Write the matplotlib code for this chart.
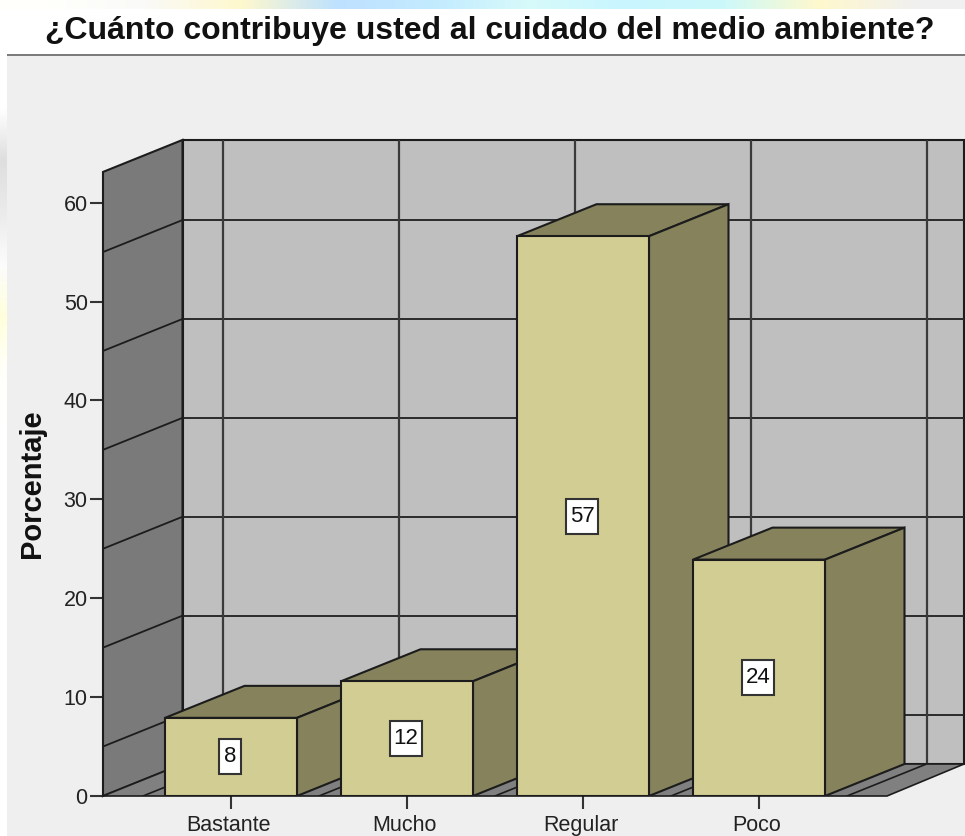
import matplotlib
matplotlib.use('Agg')
from matplotlib import pyplot as plt
from matplotlib.patches import Polygon, Rectangle
from matplotlib.transforms import ScaledTranslation
import numpy as np

categories = ['Bastante', 'Mucho', 'Regular', 'Poco']
heights = [7.9, 11.6, 56.6, 23.9]
bar_labels = ['8', '12', '57', '24']
y_ticks = [0, 10, 20, 30, 40, 50, 60]
grid_values = [5, 15, 25, 35, 45, 55]
grid_cats = [-0.5, 0.5, 1.5, 2.5, 3.5]

plt.rcParams['font.family'] = ['Liberation Sans', 'DejaVu Sans']

W, H = 965, 836
# pixel positions
X0, X1, Y0, Y1 = 103, 964, 796, 140
PX_X = 176.0
PX_Y = 9.89
xlim = ((X0 - 231) / PX_X, (X1 - 231) / PX_X)
ylim = (0, (Y0 - Y1) / PX_Y)
dx = 79.5 / PX_X   # depth offset in data units
dy = 32 / PX_Y
wall_top = 63.1
floor_right = (887 - 231) / PX_X
bar_w = 132 / PX_X

EDGE = '#1c1c1c'
FRONT = '#d2cd93'
SIDE = '#85825c'
WALL = '#bfbfbf'
LEFT = '#7a7a7a'
FLOOR = '#808080'

fig = plt.figure(figsize=(W / 100, H / 100), dpi=100, facecolor='white')

# panel behind the chart and title band
bg = fig.add_axes([0, 0, 1, 1], zorder=0)
bg.set_xlim(0, W)
bg.set_ylim(H, 0)
bg.axis('off')
bg.add_patch(Rectangle((7, 55), W - 7, H - 55, fc='#efefef', ec='none'))
bg.add_patch(Rectangle((7, 54), W - 7, 2, fc='#7c7c7c', ec='none'))

# bits of the page background left around the screenshot
strip = np.array([[[255, 255, 252], [250, 250, 248], [255, 248, 205], [190, 225, 255], [195, 235, 255],
                   [215, 250, 250], [200, 245, 255], [205, 248, 250], [255, 248, 205], [240, 240, 240]]], dtype=np.uint8)
bg.imshow(strip, extent=[0, W, 9, 0], aspect='auto', interpolation='bilinear')
side = np.array([[[255, 255, 255]], [[255, 255, 255]], [[222, 222, 222]], [[235, 235, 235]], [[252, 252, 252]],
                 [[255, 255, 220]], [[255, 255, 250]], [[255, 255, 255]], [[255, 255, 255]]], dtype=np.uint8)
bg.imshow(side, extent=[0, 7, 500, 30], aspect='auto', interpolation='bilinear')
bg.set_xlim(0, W)
bg.set_ylim(H, 0)

bg.text(489.5, 31, '¿Cuánto contribuye usted al cuidado del medio ambiente?',
        fontsize=23, fontweight='bold', ha='center', va='center', color='#111111')
bg.text(32, 484, 'Porcentaje', rotation=90, fontsize=21, fontweight='bold',
        ha='center', va='center', color='#111111')

ax = fig.add_axes([X0 / W, 1 - Y0 / H, (X1 - X0) / W, (Y0 - Y1) / H], facecolor='none', zorder=2)
ax.set_xlim(xlim)
ax.set_ylim(ylim)
for s in ax.spines.values():
    s.set_visible(False)

xl = xlim[0]

# back wall, left wall, floor
ax.add_patch(Rectangle((xl + dx, dy), xlim[1] - xl - dx, wall_top, fc=WALL, ec=EDGE, lw=1.5, zorder=1, clip_on=False))
ax.add_patch(Polygon([(xl, 0), (xl + dx, dy), (xl + dx, wall_top + dy), (xl, wall_top)],
                     fc=LEFT, ec=EDGE, lw=1.5, zorder=2, clip_on=False))
ax.add_patch(Polygon([(xl, 0), (xl + dx, dy), (xlim[1], dy), (floor_right, 0)],
                     fc=FLOOR, ec=EDGE, lw=1.2, zorder=2, clip_on=False))

# grid lines on walls and floor
for v in grid_values:
    ax.plot([xl + dx, xlim[1]], [v + dy, v + dy], color='#2a2a2a', lw=1.4, zorder=1.5)
    ax.plot([xl, xl + dx], [v, v + dy], color=EDGE, lw=1.3, zorder=3)
for c in grid_cats:
    ax.plot([c + dx, c + dx], [dy, wall_top + dy], color='#3a3a3a', lw=1.6, zorder=1.5)
    ax.plot([c, c + dx], [0, dy], color=EDGE, lw=1.2, zorder=3)

# bars, drawn left to right so each one covers the side of the previous
for i, h in enumerate(heights):
    l, r = i - bar_w / 2, i + bar_w / 2
    z = 5 + i
    ax.add_patch(Polygon([(l, h), (l + dx, h + dy), (r + dx, h + dy), (r, h)], fc=SIDE, ec=EDGE, lw=1.5, zorder=z))
    ax.add_patch(Polygon([(r, 0), (r + dx, dy), (r + dx, h + dy), (r, h)], fc=SIDE, ec=EDGE, lw=1.5, zorder=z))
    ax.bar(i, h, width=bar_w, color=FRONT, edgecolor=EDGE, linewidth=1.5, zorder=z + 0.1)
    # white value box, taller than the text as in the original
    box_w = (11 + 10.5 * len(bar_labels[i])) / PX_X
    box_h = 35 / PX_Y
    ax.add_patch(Rectangle((i - 0.006 - box_w / 2, h / 2 - box_h / 2), box_w, box_h,
                           fc='white', ec='#333333', lw=1.5, zorder=z + 0.2))
    ax.text(i - 0.006, h / 2, bar_labels[i], fontsize=16, ha='center', va='center', color='#111111', zorder=z + 0.3)

ax.set_xticks(range(len(categories)))
ax.set_xticklabels(categories)
ax.set_yticks(y_ticks)
ax.tick_params(axis='x', length=9, width=1.5, color='#333333', labelsize=15.5, labelcolor='#222222', pad=5)
ax.tick_params(axis='y', length=9.5, width=1.5, color='#333333', labelsize=15.5, labelcolor='#222222', pad=1.5)
# category labels sit a little left of their ticks
shift = ScaledTranslation(-2.5 / 100, 0, fig.dpi_scale_trans)
for t in ax.get_xticklabels():
    t.set_transform(t.get_transform() + shift)

fig.savefig('out.png', dpi=100, facecolor=fig.get_facecolor())
